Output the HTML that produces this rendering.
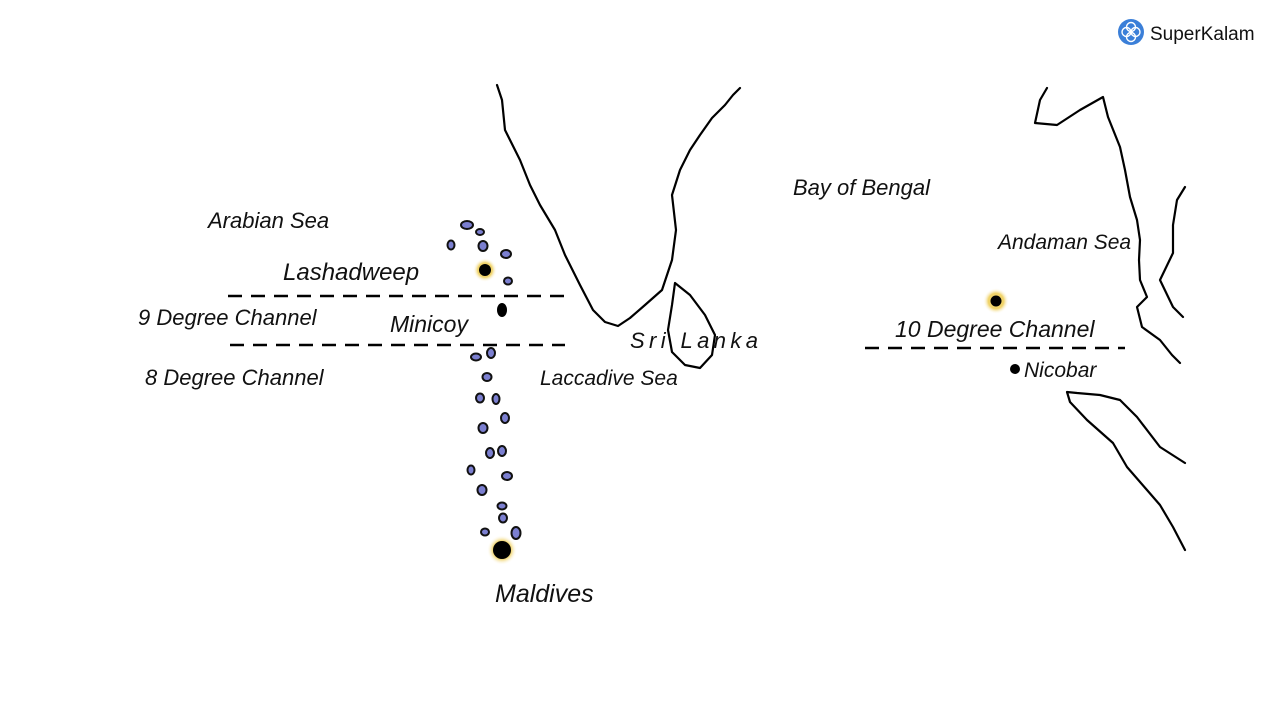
<!DOCTYPE html>
<html><head><meta charset="utf-8"><style>
html,body{margin:0;padding:0;background:#fff;width:1280px;height:720px;overflow:hidden}
svg{display:block}
text{font-family:"Liberation Sans",sans-serif;fill:#111}
</style></head><body>
<svg width="1280" height="720" viewBox="0 0 1280 720">
<defs><radialGradient id="g"><stop offset="0.6" stop-color="#f0d36a"/><stop offset="1" stop-color="#fff" stop-opacity="0"/></radialGradient></defs>
<circle cx="1131" cy="32" r="13" fill="#3b7fd8"/>
<g fill="none" stroke="#fff" stroke-width="1.4">
<circle cx="1131" cy="27" r="4.5"/><circle cx="1131" cy="37" r="4.5"/><circle cx="1126.5" cy="32" r="4.5"/><circle cx="1135.5" cy="32" r="4.5"/></g>
<text x="1150" y="40" font-size="19" fill="#333">SuperKalam</text>
<g fill="none" stroke="#000" stroke-width="2.2" stroke-linejoin="round" stroke-linecap="round">
<path d="M497,85 L502,100 L505,130 L520,160 L530,185 L540,205 L555,230 L565,255 L580,285 L593,310 L605,322 L618,326 L630,318 L645,305 L662,290 L672,260 L676,230 L672,195 L680,170 L690,150 L700,135 L712,118 L725,105 L733,95 L740,88"/>
<path d="M675,283 L690,295 L705,315 L715,335 L712,355 L700,368 L685,365 L672,352 L668,330 L672,305 Z"/>
<path d="M1047,88 L1040,100 L1035,123 L1057,125 L1080,110 L1103,97 L1108,117 L1120,147 L1125,170 L1130,197 L1137,220 L1140,240 L1139,260 L1140,280 L1147,297 L1137,307 L1142,327 L1160,340 L1172,355 L1180,363"/>
<path d="M1185,187 L1177,200 L1173,225 L1173,253 L1160,280 L1173,307 L1183,317"/>
<path d="M1077,393 L1067,392 L1070,402 L1087,420 L1113,443 L1127,467 L1147,490 L1160,505 L1173,527 L1185,550 M1077,393 L1100,395 L1120,400 L1137,417 L1160,447 L1185,463"/>
</g>
<g stroke="#000" stroke-width="2.5" stroke-dasharray="14,9">
<line x1="228" y1="296" x2="565" y2="296"/>
<line x1="230" y1="345" x2="565" y2="345"/>
<line x1="865" y1="348" x2="1125" y2="348"/>
</g>
<circle cx="485" cy="270" r="12" fill="url(#g)"/>
<circle cx="502" cy="550" r="15" fill="url(#g)"/>
<circle cx="996" cy="301" r="13" fill="url(#g)"/>
<g fill="#000">
<circle cx="485" cy="270" r="6"/><circle cx="502" cy="550" r="9"/><circle cx="996" cy="301" r="5.5"/>
<ellipse cx="502" cy="310" rx="5" ry="7"/><circle cx="1015" cy="369" r="5"/>
</g>
<g fill="#7b7fd0" stroke="#111" stroke-width="2">
<ellipse cx="467" cy="225" rx="6" ry="4"/><ellipse cx="480" cy="232" rx="4" ry="3"/><ellipse cx="451" cy="245" rx="3.5" ry="4.5"/><ellipse cx="483" cy="246" rx="4.5" ry="5"/><ellipse cx="506" cy="254" rx="5" ry="4"/><ellipse cx="508" cy="281" rx="4" ry="3.5"/>
<ellipse cx="476" cy="357" rx="5" ry="3.5"/><ellipse cx="491" cy="353" rx="4" ry="5"/><ellipse cx="487" cy="377" rx="4.5" ry="4"/><ellipse cx="480" cy="398" rx="4" ry="4.5"/><ellipse cx="496" cy="399" rx="3.5" ry="5"/><ellipse cx="505" cy="418" rx="4" ry="5"/><ellipse cx="483" cy="428" rx="4.5" ry="5"/><ellipse cx="490" cy="453" rx="4" ry="5"/><ellipse cx="502" cy="451" rx="4" ry="5"/><ellipse cx="471" cy="470" rx="3.5" ry="4.5"/><ellipse cx="507" cy="476" rx="5" ry="4"/><ellipse cx="482" cy="490" rx="4.5" ry="5"/><ellipse cx="502" cy="506" rx="4.5" ry="3.5"/><ellipse cx="503" cy="518" rx="4" ry="4.5"/><ellipse cx="485" cy="532" rx="4" ry="3.5"/><ellipse cx="516" cy="533" rx="4.5" ry="6"/>
</g>
<g font-size="23" font-style="italic">
<text x="208" y="228" font-size="22">Arabian Sea</text>
<text x="283" y="280" font-size="24">Lashadweep</text>
<text x="138" y="325" font-size="22">9 Degree Channel</text>
<text x="390" y="332" font-size="23">Minicoy</text>
<text x="145" y="385" font-size="22">8 Degree Channel</text>
<text x="540" y="385" font-size="21">Laccadive Sea</text>
<text x="630" y="348" font-size="22" textLength="128">Sri Lanka</text>
<text x="495" y="602" font-size="25">Maldives</text>
<text x="793" y="195" font-size="22">Bay of Bengal</text>
<text x="998" y="249" font-size="21">Andaman Sea</text>
<text x="895" y="337" font-size="23">10 Degree Channel</text>
<text x="1024" y="377" font-size="21">Nicobar</text>
</g>
</svg>
</body></html>
